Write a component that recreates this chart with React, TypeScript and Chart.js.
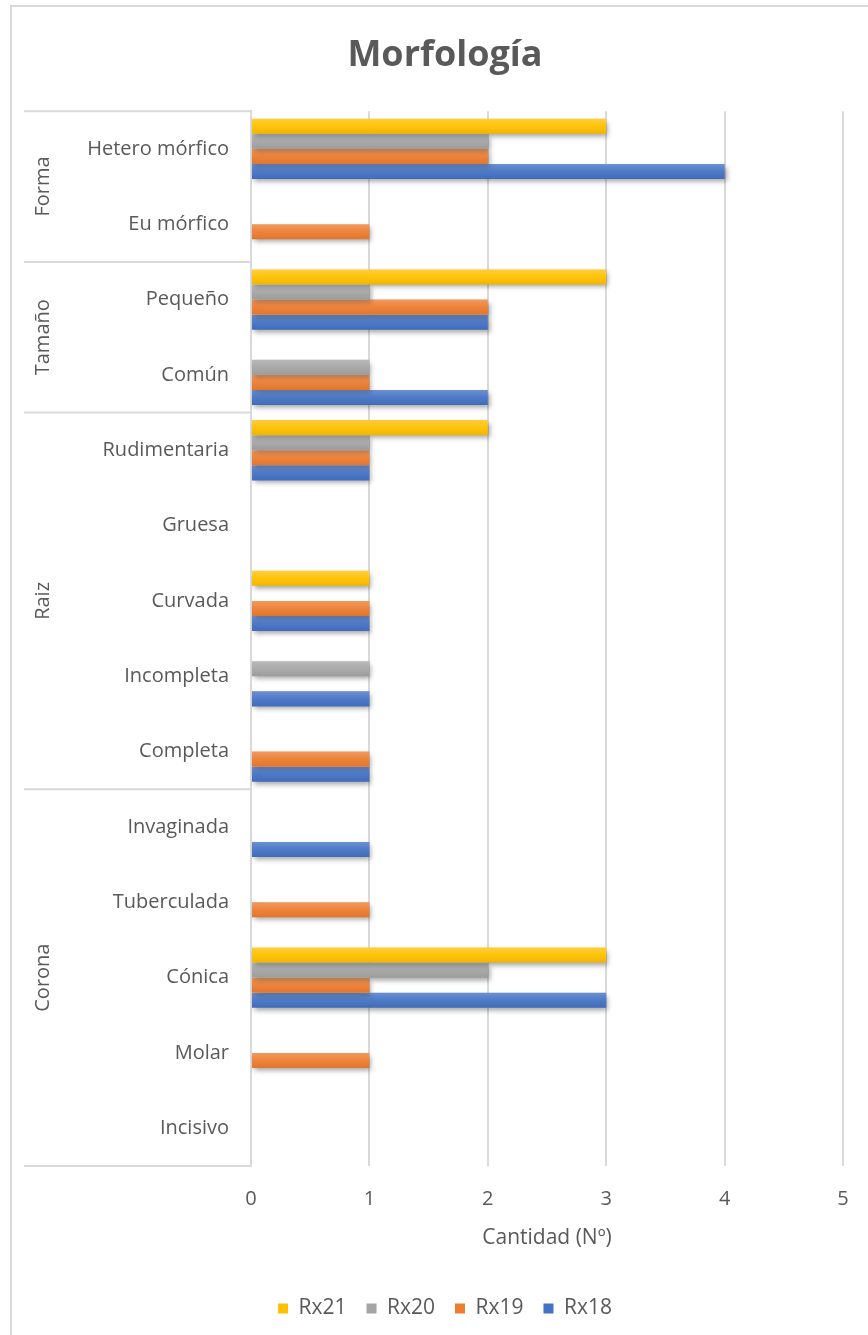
import React, { useEffect, useRef } from 'react';
import { Chart, registerables } from 'chart.js';

Chart.register(...registerables);

const categories = [
  'Hetero mórfico', 'Eu mórfico', 'Pequeño', 'Común', 'Rudimentaria', 'Gruesa', 'Curvada',
  'Incompleta', 'Completa', 'Invaginada', 'Tuberculada', 'Cónica', 'Molar', 'Incisivo',
];
const groupNames = ['Forma', 'Tamaño', 'Raiz', 'Corona'];
const groupSizes = [2, 2, 5, 5];

const seriesNames = ['Rx21', 'Rx20', 'Rx19', 'Rx18'];
const rx21 = [3, 0, 3, 0, 2, 0, 1, 0, 0, 0, 0, 3, 0, 0];
const rx20 = [2, 0, 1, 1, 1, 0, 0, 1, 0, 0, 0, 2, 0, 0];
const rx19 = [2, 1, 2, 1, 1, 0, 1, 0, 1, 0, 1, 1, 1, 0];
const rx18 = [4, 0, 2, 2, 1, 0, 1, 1, 1, 1, 0, 3, 0, 0];
const seriesColors = ['#FFC000', '#A5A5A5', '#ED7D31', '#4472C4'];

const xTicks = [0, 1, 2, 3, 4, 5];
const chartTitle = 'Morfología';
const xTitle = 'Cantidad (Nº)';

const FONT = '"Open Sans", sans-serif';
const TEXT = '#595959';
const GRID = '#d9d9d9';

export default function App() {
  const ref = useRef<HTMLCanvasElement>(null);

  useEffect(() => {
    if (!ref.current) return;

    const shadowPlugin = {
      id: 'barShadow',
      beforeDatasetsDraw(chart: any) {
        const ctx = chart.ctx;
        ctx.save();
        ctx.shadowColor = 'rgba(0,0,0,0.35)';
        ctx.shadowBlur = 5;
        ctx.shadowOffsetX = 2;
        ctx.shadowOffsetY = 3;
      },
      afterDatasetsDraw(chart: any) {
        const ctx = chart.ctx;
        ctx.restore();
        ctx.save();
        chart.data.datasets.forEach((_: any, di: number) => {
          const meta = chart.getDatasetMeta(di);
          meta.data.forEach((bar: any) => {
            const { x, y, base, height } = bar.getProps(['x', 'y', 'base', 'height'], true);
            const w = x - base;
            if (w <= 0) return;
            const top = y - height / 2;
            const g = ctx.createLinearGradient(0, top, 0, top + height);
            g.addColorStop(0, 'rgba(255,255,255,0.22)');
            g.addColorStop(0.5, 'rgba(255,255,255,0.05)');
            g.addColorStop(1, 'rgba(0,0,0,0.06)');
            ctx.fillStyle = g;
            ctx.fillRect(base, top, w, height);
          });
        });
        ctx.restore();
      },
    };

    const groupPlugin = {
      id: 'groupLabels',
      afterDraw(chart: any) {
        const { ctx, chartArea, scales } = chart;
        const y = scales.y;
        const band = (y.bottom - y.top) / categories.length;
        ctx.save();
        ctx.strokeStyle = GRID;
        ctx.lineWidth = 2;
        let idx = 0;
        const lineStart = 12;
        const drawLine = (py: number) => {
          ctx.beginPath();
          ctx.moveTo(lineStart, py);
          ctx.lineTo(chartArea.left, py);
          ctx.stroke();
        };
        drawLine(y.top);
        groupSizes.forEach((size, g) => {
          const top = y.top + idx * band;
          const bottom = y.top + (idx + size) * band;
          drawLine(bottom);
          ctx.save();
          ctx.translate(31, (top + bottom) / 2);
          ctx.rotate(-Math.PI / 2);
          ctx.fillStyle = TEXT;
          ctx.font = `20px ${FONT}`;
          ctx.textAlign = 'center';
          ctx.textBaseline = 'middle';
          ctx.fillText(groupNames[g], 0, 0);
          ctx.restore();
          idx += size;
        });
        ctx.restore();
      },
    };

    const datasets = [rx21, rx20, rx19, rx18].map((d, i) => ({
      label: seriesNames[i],
      data: d,
      backgroundColor: seriesColors[i],
      borderWidth: 0,
      categoryPercentage: 0.8,
      barPercentage: 1.0,
    }));

    const chart = new Chart(ref.current, {
      type: 'bar',
      data: { labels: categories, datasets },
      options: {
        indexAxis: 'y',
        responsive: false,
        animation: false,
        devicePixelRatio: 1,
        layout: { padding: { left: 35, right: 35, top: 0, bottom: 6 } },
        plugins: {
          title: {
            display: true,
            text: chartTitle,
            color: TEXT,
            font: { family: FONT, size: 36, weight: 'bold', lineHeight: 1.2 },
            padding: { top: 27, bottom: 34 },
          },
          legend: {
            position: 'bottom',
            labels: {
              color: TEXT,
              font: { family: FONT, size: 21 },
              boxWidth: 10,
              boxHeight: 10,
              padding: 20,
            },
          },
          tooltip: { enabled: false },
        },
        scales: {
          x: {
            min: 0,
            max: 5,
            afterBuildTicks: (scale: any) => {
              scale.ticks = xTicks.map((v) => ({ value: v }));
            },
            grid: { color: GRID, lineWidth: 2, drawTicks: false },
            border: { display: false },
            ticks: { color: TEXT, font: { family: FONT, size: 20 }, padding: 21 },
            title: {
              display: true,
              text: xTitle,
              color: TEXT,
              font: { family: FONT, size: 21 },
              padding: { top: 14, bottom: 27 },
            },
            afterFit: (scale: any) => {
              scale.height = 112;
            },
          },
          y: {
            grid: { display: false, drawTicks: false },
            border: { display: true, color: GRID, width: 2 },
            ticks: { color: TEXT, font: { family: FONT, size: 20 }, padding: 22 },
            afterFit: (scale: any) => {
              scale.width = 204;
            },
          },
        },
      },
      plugins: [shadowPlugin, groupPlugin],
    });

    return () => chart.destroy();
  }, []);

  return (
    <div
      style={{
        position: 'absolute',
        left: 0,
        top: 0,
        width: 868,
        height: 1335,
        overflow: 'hidden',
        background: '#fff',
      }}
    >
      <div
        style={{
          position: 'absolute',
          left: 10,
          top: 5,
          width: 900,
          height: 1400,
          borderLeft: `2px solid ${GRID}`,
          borderTop: `2px solid ${GRID}`,
          boxSizing: 'border-box',
        }}
      />
      <canvas
        ref={ref}
        width={866}
        height={1328}
        style={{ position: 'absolute', left: 12, top: 7, width: 866, height: 1328 }}
      />
    </div>
  );
}
